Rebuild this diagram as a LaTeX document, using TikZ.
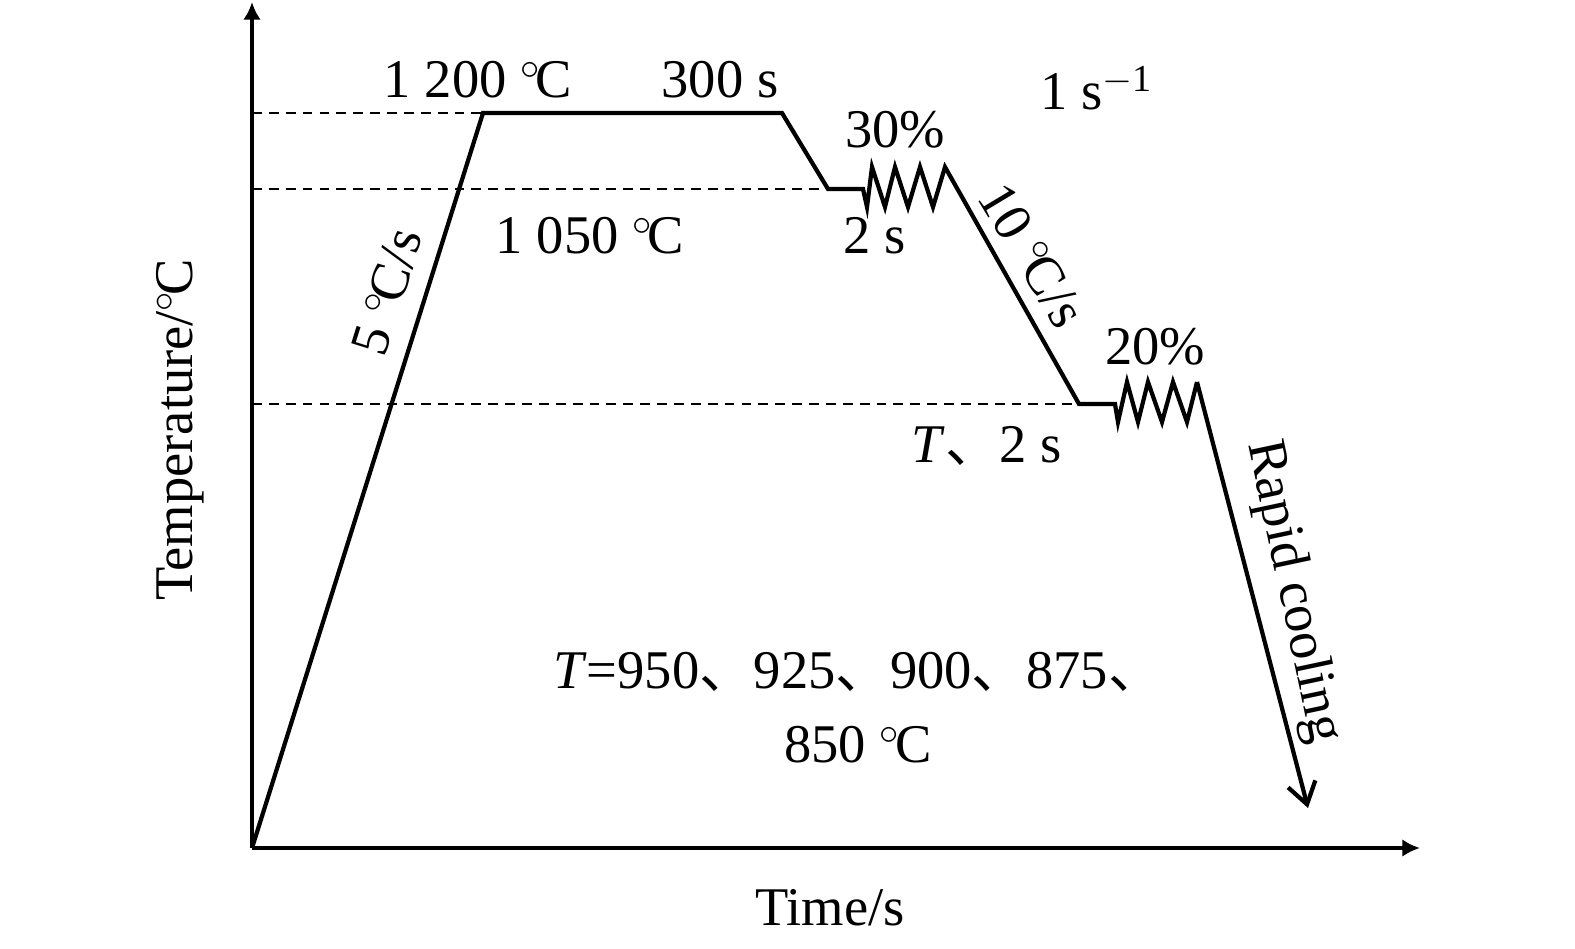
\documentclass[tikz,border=0pt]{standalone}
\usepackage{fontspec}
\setmainfont{Liberation Serif}
\newfontfamily\cjk{Noto Sans CJK SC}
\usetikzlibrary{arrows.meta}
\newcommand{\degC}{\ensuremath{^{\circ}}\kern-0.1em C}
\newcommand{\dun}{{\cjk 、}}

\begin{document}
\begin{tikzpicture}[x=0.01cm,y=-0.01cm,
  lbl/.style={font=\fontsize{15.5}{19}\selectfont,inner sep=1pt},
  axis/.style={line width=1.4pt,-{Latex[length=5pt,width=5pt]}},
  curve/.style={line width=1.2pt,line join=miter},
  guide/.style={line width=0.5pt,dash pattern=on 2.8pt off 2pt}]
  \useasboundingbox (0,0) rectangle (1575,948);
  % axes
  \coordinate (o) at (252,848);
  \coordinate (ytop) at (252,2);
  \coordinate (xend) at (1420,848);
  \draw[axis] (o) -- (ytop);
  \draw[axis] (o) -- (xend);
  % process route
  \coordinate (heat) at (483,113);
  \coordinate (hold) at (782,113);
  \coordinate (pass1) at (828,189);
  \coordinate (def1) at (863,189);
  \coordinate (end1) at (945,167);
  \coordinate (pass2) at (1079,404);
  \coordinate (def2) at (1115,404);
  \coordinate (end2) at (1197,382);
  \coordinate (quench) at (1308,808);
  \draw[guide] (o |- heat) -- (heat);
  \draw[guide] (o |- pass1) -- (pass1);
  \draw[guide] (o |- pass2) -- (pass2);
  \draw[curve] (o) -- (heat) -- (hold) -- (pass1) -- (def1)
    -- ++(4,18) -- ++(5,-40) -- ++(13,40) -- ++(10,-40) -- ++(13,40)
    -- ++(12,-40) -- ++(13,40) -- (end1) -- (pass2) -- (def2)
    -- ++(3,18) -- ++(9,-40) -- ++(11,40) -- ++(10,-40) -- ++(14,40)
    -- ++(11,-40) -- ++(14,40) -- (end2);
  \draw[curve,-{Straight Barb[length=6pt,width=8pt]}] (end2) -- (quench);
  % labels
  \node[lbl] (t1200) at (478,80) {1 200 \degC};
  \node[lbl] (t300) at (720,80) {300 s};
  \node[lbl] (t30) at (895,130) {30\%};
  \node[lbl] (rate) at (1097,88) {1 s\textsuperscript{$-$1}};
  \node[lbl] (t1050) at (590,236) {1 050 \degC};
  \node[lbl] (t2a) at (875,236) {2 s};
  \node[lbl,rotate=72.6] (heatrate) at (387,292) {5 \degC/s};
  \node[lbl,rotate=-59] (coolrate) at (1032,255) {10 \degC/s};
  \node[lbl] (t20) at (1155,347) {20\%};
  \node[lbl] (t2b) at (987,446) {\textit{T}\dun 2 s};
  \node[lbl,rotate=-78] (rapid) at (1293,592) {Rapid cooling};
  \node[lbl,align=center] (tlist) at (858,708) {\textit{T}=950\dun 925\dun 900\dun 875\dun\\[2pt]850 \degC};
  \node[lbl,rotate=90] (ylabel) at (180,430) {Temperature/\degC};
  \node[lbl] (xlabel) at (830,908) {Time/s};
\end{tikzpicture}
\end{document}
